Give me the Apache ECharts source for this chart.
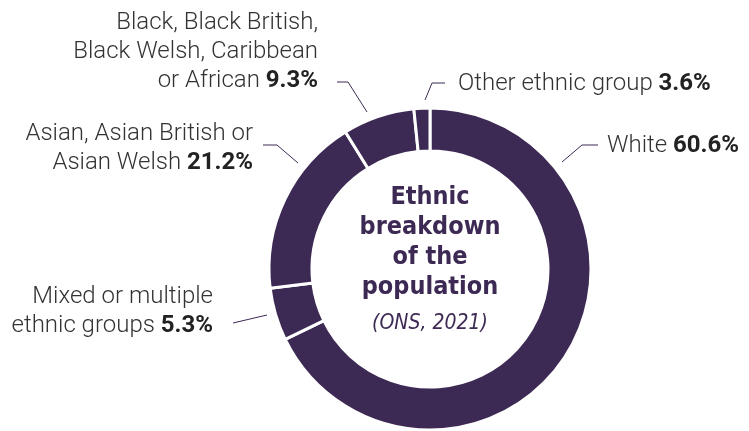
<!DOCTYPE html>
<html>
<head>
<meta charset="utf-8">
<script src="https://cdn.jsdelivr.net/npm/echarts@6/dist/echarts.min.js"></script>
<style>
  html, body { margin: 0; padding: 0; background: #fff; }
  #chart { width: 749px; height: 431px; }
</style>
</head>
<body>
<div id="chart"></div>
<script>
// 数据
const categories = ['White', 'Mixed or multiple ethnic groups', 'Asian, Asian British or Asian Welsh', 'Black, Black British, Black Welsh, Caribbean or African', 'Other ethnic group'];
const labelText = [
  ['White'],
  ['Mixed or multiple', 'ethnic groups'],
  ['Asian, Asian British or', 'Asian Welsh'],
  ['Black, Black British,', 'Black Welsh, Caribbean', 'or African'],
  ['Other ethnic group']
];
// percentages printed in the labels
const percents = [60.6, 5.3, 21.2, 9.3, 3.6];
// arc sizes as drawn in the ring
const arcValues = [67.8, 5.3, 18.1, 7.2, 1.6];

const purple = '#3d2a54';

// label anchor + leader line points (pixels)
const labelPos = [
  { x: 607, y: 146, align: 'left', line: [[562, 162], [582, 145], [598, 145]] },
  { x: 213, y: 311, align: 'right', line: [[267, 315], [250, 319], [233, 323]] },
  { x: 253, y: 148, align: 'right', line: [[298, 163], [277, 145], [263, 145]] },
  { x: 318, y: 52, align: 'right', line: [[367, 112], [348, 82], [337, 82]] },
  { x: 458, y: 84, align: 'left', line: [[425, 100], [432, 83], [445, 83]] }
];

const chart = echarts.init(document.getElementById('chart'));

const option = {
  animation: false,
  graphic: [
    {
      type: 'text',
      x: 430, y: 242,
      style: {
        text: 'Ethnic\nbreakdown\nof the\npopulation',
        align: 'center', verticalAlign: 'middle',
        font: 'bold 25px "DejaVu Sans Condensed", "DejaVu Sans"',
        lineHeight: 30,
        fill: purple
      }
    },
    {
      type: 'text',
      x: 430, y: 324,
      style: {
        text: '(ONS, 2021)',
        align: 'center', verticalAlign: 'middle',
        font: 'italic 21px "DejaVu Sans Condensed", "DejaVu Sans"',
        fill: purple
      }
    }
  ],
  series: [
    {
      type: 'pie',
      center: [430, 269],
      radius: [118, 161],
      startAngle: 90,
      clockwise: true,
      emphasis: { disabled: true },
      itemStyle: { color: purple, borderColor: '#fff', borderWidth: 3 },
      label: {
        show: true,
        overflow: 'none',
        color: '#333',
        fontFamily: 'Roboto',
        fontWeight: 300,
        fontSize: 24,
        lineHeight: 29,
        formatter: function (p) {
          const lines = labelText[p.dataIndex];
          const out = lines.map(l => '{n|' + l + '}');
          out[out.length - 1] += '{n| }{v|' + percents[p.dataIndex].toFixed(1) + '%}';
          return out.join('\n');
        },
        rich: {
          n: { fontFamily: 'Roboto', fontWeight: 300, fontSize: 24, color: '#333', lineHeight: 29 },
          v: { fontFamily: 'Roboto', fontWeight: 'bold', fontSize: 24, color: '#222', lineHeight: 29 }
        }
      },
      labelLine: { show: true, lineStyle: { color: purple, width: 1 } },
      labelLayout: function (params) {
        const lp = labelPos[params.dataIndex];
        return {
          x: lp.x, y: lp.y,
          align: lp.align,
          verticalAlign: 'middle',
          labelLinePoints: lp.line
        };
      },
      data: categories.map((c, i) => ({ name: c, value: arcValues[i] }))
    }
  ]
};

chart.setOption(option);
window.addEventListener('resize', () => { chart.resize(); });
</script>
</body>
</html>
